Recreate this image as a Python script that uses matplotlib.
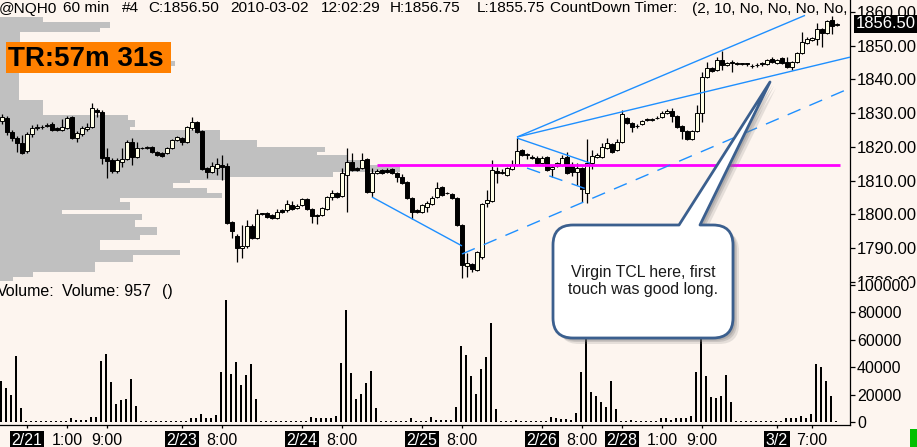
import matplotlib
matplotlib.use('Agg')
import matplotlib.pyplot as plt
from matplotlib.patches import Rectangle, PathPatch
from matplotlib.path import Path
import numpy as np

plt.rcParams['font.family'] = ['Liberation Sans', 'DejaVu Sans']

# ---------------- data ----------------
opens = [1827.7,1828.5,1824.4,1822.6,1821.1,1818.8,1823.8,1825.6,1825.9,1826.3,
         1826.8,1825.6,1825.0,1825.6,1828.8,1822.6,1823.8,1825.3,1825.9,1830.9,
         1830.3,1817.0,1816.1,1812.8,1815.5,1816.4,1821.4,1817.0,1819.6,1819.6,
         1819.9,1818.5,1818.2,1818.2,1819.6,1822.0,1822.6,1821.4,1825.6,1827.4,
         1824.7,1813.7,1812.5,1813.7,1814.6,1814.3,1797.7,1793.5,1790.0,1790.6,
         1796.5,1792.9,1800.1,1800.4,1799.8,1798.9,1801.3,1801.3,1802.7,1801.8,
         1802.7,1804.5,1801.5,1799.8,1799.8,1801.5,1805.1,1806.3,1805.4,1811.6,
         1815.5,1813.7,1813.7,1816.4,1806.6,1812.2,1813.1,1813.1,1813.4,1812.2,
         1811.0,1809.6,1804.8,1801.3,1800.7,1802.1,1803.0,1805.1,1808.1,1806.3,
         1806.0,1804.8,1796.8,1784.6,1785.2,1783.5,1787.3,1803.3,1803.9,1812.8,
         1812.2,1811.6,1813.4,1814.6,1819.1,1817.6,1817.0,1816.7,1815.2,1817.0,
         1813.4,1814.3,1814.6,1817.0,1814.6,1812.5,1813.7,1806.3,1815.2,1817.0,
         1817.0,1819.6,1820.8,1819.1,1821.4,1828.5,1827.1,1826.2,1826.8,1828.0,
         1828.0,1828.5,1828.8,1830.0,1830.6,1829.1,1826.2,1824.7,1822.3,1824.7,
         1830.0,1840.7,1843.4,1842.8,1845.8,1844.3,1844.9,1844.9,1844.6,1844.6,
         1844.0,1844.3,1844.6,1844.6,1846.1,1844.9,1846.3,1845.2,1843.7,1845.2,
         1847.8,1850.8,1851.7,1852.0,1855.0,1853.8,1857.6,1856.25]
highs = [1829.7,1829.0,1825.0,1823.2,1823.5,1824.4,1826.5,1826.8,1826.5,1827.1,
         1827.4,1826.0,1828.2,1829.0,1829.2,1824.7,1826.2,1827.1,1833.0,1831.5,
         1830.9,1819.6,1816.7,1816.7,1819.6,1822.0,1822.6,1821.4,1820.0,1820.2,
         1820.2,1818.8,1818.5,1819.9,1822.3,1823.2,1822.9,1826.2,1828.8,1827.7,
         1825.0,1814.0,1815.5,1816.7,1817.6,1815.2,1798.0,1794.0,1796.8,1798.3,
         1797.0,1801.5,1800.4,1800.7,1800.1,1801.6,1801.6,1804.2,1803.9,1803.0,
         1804.8,1804.8,1801.8,1800.1,1802.1,1805.4,1807.2,1806.6,1813.7,1819.6,
         1818.2,1814.0,1818.2,1816.7,1813.7,1813.4,1813.4,1813.7,1813.7,1812.5,
         1811.9,1809.9,1805.1,1801.6,1803.0,1803.9,1805.4,1809.6,1808.4,1806.6,
         1806.3,1805.1,1797.1,1788.5,1785.5,1789.1,1803.3,1807.2,1816.1,1814.0,
         1813.4,1814.0,1816.1,1822.6,1819.4,1818.2,1817.6,1817.3,1817.3,1817.3,
         1814.6,1815.5,1817.6,1818.5,1815.5,1815.2,1814.0,1822.3,1819.1,1818.2,
         1821.1,1822.6,1821.1,1822.3,1830.9,1828.8,1827.4,1826.8,1828.0,1828.5,
         1828.5,1829.0,1830.6,1831.2,1831.5,1829.4,1826.5,1825.0,1825.0,1832.4,
         1842.2,1845.2,1843.7,1846.6,1848.4,1845.2,1845.8,1845.2,1845.0,1845.0,
         1844.6,1844.9,1845.2,1846.1,1846.6,1846.1,1846.6,1846.6,1845.5,1848.1,
         1854.1,1852.6,1852.6,1856.7,1855.3,1857.6,1858.8,1856.75]
lows = [1826.8,1823.5,1821.8,1818.5,1817.9,1818.2,1822.9,1825.0,1825.3,1825.9,
        1824.7,1824.7,1824.7,1825.3,1822.3,1821.4,1823.2,1824.7,1825.6,1828.8,
        1814.9,1810.7,1812.2,1812.2,1814.0,1816.1,1814.6,1816.7,1819.3,1819.3,
        1818.2,1817.3,1817.0,1817.9,1819.3,1821.7,1820.5,1821.1,1825.0,1824.1,
        1813.1,1810.7,1812.2,1811.6,1810.1,1797.1,1792.9,1785.8,1787.0,1790.0,
        1792.6,1792.6,1799.8,1798.9,1798.6,1798.6,1800.4,1800.7,1801.2,1801.5,
        1802.4,1801.2,1797.4,1797.1,1799.5,1801.2,1804.2,1804.8,1805.1,1800.7,
        1812.8,1812.8,1813.4,1806.3,1805.1,1811.9,1811.9,1812.2,1811.9,1809.6,
        1809.0,1804.5,1798.6,1800.4,1800.4,1800.7,1802.7,1804.8,1805.4,1806.0,
        1804.5,1796.5,1781.1,1781.4,1782.8,1783.2,1786.7,1802.1,1803.6,1809.3,
        1812.0,1811.3,1813.1,1814.3,1817.3,1816.4,1816.4,1814.9,1814.9,1812.8,
        1811.0,1814.0,1814.3,1811.9,1811.3,1808.7,1803.6,1803.3,1813.4,1816.7,
        1816.7,1819.3,1818.2,1818.8,1821.1,1826.8,1824.4,1825.6,1826.5,1827.7,
        1827.7,1828.2,1828.5,1829.7,1827.4,1825.6,1822.3,1822.0,1822.0,1824.4,
        1827.4,1840.4,1842.2,1842.5,1842.8,1844.0,1842.2,1844.3,1844.3,1844.0,
        1843.4,1843.7,1844.0,1844.3,1844.9,1844.6,1844.6,1843.4,1842.8,1844.9,
        1847.5,1850.5,1851.4,1850.2,1849.6,1853.5,1853.5,1855.75]
closes = [1828.8,1824.4,1822.6,1821.1,1818.2,1823.8,1825.6,1825.9,1825.9,1826.5,
          1825.0,1825.0,1825.9,1828.5,1822.6,1824.1,1825.6,1825.9,1831.5,1830.3,
          1816.7,1815.8,1812.8,1816.1,1816.4,1821.4,1817.0,1819.6,1819.6,1819.9,
          1818.5,1817.6,1817.3,1819.6,1822.0,1822.9,1821.4,1825.9,1827.4,1824.4,
          1813.4,1812.5,1814.3,1814.9,1814.0,1797.4,1795.0,1790.0,1790.6,1796.5,
          1792.9,1800.1,1800.1,1799.2,1798.9,1800.7,1800.7,1803.0,1801.5,1802.4,
          1804.5,1801.5,1799.5,1799.5,1801.8,1805.1,1806.3,1805.1,1812.2,1815.5,
          1813.1,1813.1,1816.1,1806.6,1812.2,1812.8,1812.2,1812.5,1812.2,1811.0,
          1809.3,1804.8,1800.7,1800.7,1802.7,1803.3,1804.8,1807.8,1805.7,1806.3,
          1804.8,1796.8,1784.9,1785.5,1783.7,1788.8,1803.0,1804.2,1813.1,1812.2,
          1812.5,1813.7,1814.6,1818.8,1817.6,1817.6,1816.7,1815.2,1816.7,1813.1,
          1814.0,1815.2,1816.7,1812.2,1812.5,1813.7,1807.5,1815.2,1817.3,1817.6,
          1819.9,1821.1,1818.5,1821.4,1829.7,1827.1,1825.9,1826.2,1827.7,1828.0,
          1828.2,1828.5,1830.0,1830.6,1829.1,1825.9,1824.7,1822.3,1824.7,1830.0,
          1840.7,1843.4,1842.5,1845.8,1844.3,1844.9,1844.9,1844.6,1844.6,1844.6,
          1844.0,1844.3,1844.6,1845.8,1845.2,1845.8,1844.9,1843.7,1845.2,1847.8,
          1851.1,1852.0,1852.3,1855.0,1853.8,1857.3,1855.8,1856.5]
volumes = [30150,25050,19700,48200,10450,
           700,700,700,700,700,700,700,700,700,
           3150,1700,1700,1700,3900,3900,
           44800,49600,29200,13100,16000,17000,31400,11700,
           700,700,700,700,700,700,700,700,700,700,
           2700,2700,5800,3150,3150,5100,
           36700,89000,35000,44000,27000,34300,42300,16800,
           700,700,700,700,700,700,700,700,700,700,
           3650,2700,2700,2700,3150,4600,
           43300,81800,36000,16800,20400,28700,37500,10400,
           700,700,700,700,700,700,
           3150,700,700,700,3650,1700,1700,1700,1700,
           11000,
           55500,48900,33600,20400,38500,47200,72000,9250,
           700,700,700,1500,700,700,700,700,700,700,
           3650,2700,2000,2000,1500,6300,
           36300,65000,21600,19000,14400,10700,29900,9250,1000,
           700,1700,700,700,700,700,700,
           3150,2700,1700,2700,3150,3150,4400,
           36700,66000,33800,18500,17700,19200,34300,14800,
           700,700,700,700,700,700,700,700,700,700,
           2700,2700,2700,4400,3150,5800,
           42300,40400,30100,19000,957]

# volume-at-price profile (level edges, relative length in bar units)
profile_edges = [1858.5,1857.0,1855.3,1854.1,1845.5,1844.0,1841.9,1833.9,1829.4,
                 1828.0,1825.9,1825.0,1822.0,1820.0,1818.5,1817.6,1816.1,1814.6,1812.5,
                 1811.0,1810.2,1809.3,1807.8,1806.3,1804.8,1803.6,1802.1,1801.3,1800.1,
                 1798.3,1796.2,1793.8,1792.4,1789.4,1787.9,1785.8,1782.9,1781.4,1780.2]
profile_len = [8.6,22,20,4,35,11,3.8,8.6,25.6,27,26,44,51.4,65,63.4,69.4,73.4,80,
               66.6,45.4,38,34.6,41.4,44.4,24,26,26,12.4,28.4,27,31.4,28,20,36,26.6,
               19,6.6,2.6]

tick_bars = [5,13,21,36,44,60,68,84,92,108,116,124,132,140,155,162]
tick_labels = ['2/21','1:00','9:00','2/23','8:00','2/24','8:00','2/25','8:00',
               '2/26','8:00','2/28','1:00','9:00','3/2','7:00']

poc_price = 1814.75
# trendlines: (bar0, price0, bar1, price1, dashed)
trendlines = [(74,1805.1,92,1790.6,False),
              (92,1788.2,169.6,1837.4,True),
              (103,1822.9,160.6,1859.0,False),
              (103,1822.9,169.6,1846.6,False),
              (103,1822.6,117.6,1815.2,False),
              (105,1813.7,118,1806.9,True)]

last_price = 1856.50

# ---------------- figure ----------------
W, H = 917, 447
BG = '#FDF5EF'
fig = plt.figure(figsize=(W/100, H/100), dpi=100, facecolor=BG)

def fx(px): return px / W
def fy(py): return 1 - py / H

ax = fig.add_axes([0, fy(285), fx(850), 285/H])
axv = fig.add_axes([0, fy(425), fx(850), 140/H])
for a in (ax, axv):
    a.set_facecolor(BG)
    a.set_xlim(-0.4, 169.6)
    for s in ('left', 'top'):
        a.spines[s].set_visible(False)
    a.spines['right'].set_linewidth(0.9)
ax.spines['bottom'].set_visible(False)
axv.spines['bottom'].set_linewidth(0.9)

O = np.array(opens); Hh = np.array(highs); L = np.array(lows); C = np.array(closes)
x = np.arange(len(O))

# profile
edges = np.array(profile_edges)
tops = edges[:-1]; bots = edges[1:]
ax.barh((tops+bots)/2, profile_len, height=(tops-bots), left=-0.4,
        color='#C0C0C0', linewidth=0, zorder=1)

# candles
ax.vlines(x, L, Hh, color='black', lw=0.9, zorder=3)
body_bot = np.minimum(O, C)
body_h = np.maximum(np.abs(C - O), 0.12)
colors = ['#FFFFE6' if c > o else 'black' for o, c in zip(O, C)]
ax.bar(x, body_h, bottom=body_bot, width=0.72, color=colors,
       edgecolor='black', linewidth=0.7, zorder=4)

# magenta line and trendlines
ax.hlines(poc_price, 75, 167.6, color='#FF00FF', lw=2, zorder=5)
for b0, p0, b1, p1, dashed in trendlines:
    ax.plot([b0, b1], [p0, p1], color='#1E8FFF', lw=1.0, zorder=6,
            dashes=(10, 7) if dashed else (None, None), solid_capstyle='butt')

ax.set_ylim(1779.0, 1863.56)
ax.yaxis.tick_right()
ax.set_yticks(np.arange(1780, 1861, 10))
ax.set_yticklabels([f'{v:.2f}' for v in np.arange(1780, 1861, 10)])
ax.tick_params(axis='y', length=3.5, width=0.9, pad=1.5, labelsize=12, colors='black')
ax.set_xticks([])

# last price marker
ax.annotate(f'{last_price:.2f}', xy=(1, last_price), xycoords=('axes fraction', 'data'),
            xytext=(4, 0), textcoords='offset points', ha='left', va='center',
            color='white', fontsize=12, annotation_clip=False,
            bbox=dict(facecolor='black', edgecolor='none', pad=1.2), zorder=20)

# volume
axv.bar(x - 0.2, volumes, width=0.35, color='black', linewidth=0, zorder=3)
axv.set_ylim(-2190, 100010)
axv.yaxis.tick_right()
vt = [0, 20000, 40000, 60000, 80000, 100000]
axv.set_yticks(vt)
axv.set_yticklabels([str(v) for v in vt])
axv.tick_params(axis='y', length=3.5, width=0.9, pad=1.5, labelsize=11.5)
for lab in axv.get_yticklabels():
    lab.set_bbox(dict(facecolor=BG, edgecolor='none', pad=0))
axv.set_xticks(tick_bars)
axv.set_xticklabels(tick_labels)
axv.tick_params(axis='x', length=2.5, width=0.9, pad=3, labelsize=11.5)
for lab in axv.get_xticklabels():
    if '/' in lab.get_text():
        lab.set_color('white')
        lab.set_bbox(dict(facecolor='black', edgecolor='none', pad=1.2))

# ---------------- overlay (texts, callout) ----------------
ov = fig.add_axes([0, 0, 1, 1], zorder=10)
ov.set_xlim(0, W); ov.set_ylim(H, 0); ov.axis('off'); ov.patch.set_alpha(0)

header = [('@NQH0', -1), ('60 min', 63), ('#4', 122), ('C:1856.50', 148),
          ('2010-03-02', 230), ('12:02:29', 321), ('H:1856.75', 390),
          ('L:1855.75', 477), ('CountDown Timer:', 550), ('(2, 10, No, No, No, No,', 692)]
for t, px in header:
    ov.text(px, 12.5, t, fontsize=11.1, color='black', ha='left', va='baseline')

ov.add_patch(Rectangle((6, 42), 165, 31, facecolor='#FF8000', edgecolor='none'))
ov.text(8, 66.5, 'TR:57m 31s', fontsize=20, fontweight='bold', color='black',
        ha='left', va='baseline')

for t, px in [('Volume:', -3), ('Volume: 957', 62), ('()', 162)]:
    ov.text(px, 296, t, fontsize=11.5, color='black', ha='left', va='baseline')

# callout bubble with pointer
def bubble_path(x0, y0, x1, y1, r, b0, b1, tip, dx=0, dy=0):
    verts = [(x0+r, y0), (b0, y0), tip, (b1, y0), (x1-r, y0),
             (x1, y0), (x1, y0+r), (x1, y1-r), (x1, y1), (x1-r, y1),
             (x0+r, y1), (x0, y1), (x0, y1-r), (x0, y0+r), (x0, y0), (x0+r, y0),
             (x0+r, y0)]
    codes = [Path.MOVETO, Path.LINETO, Path.LINETO, Path.LINETO, Path.LINETO,
             Path.CURVE3, Path.CURVE3, Path.LINETO, Path.CURVE3, Path.CURVE3,
             Path.LINETO, Path.CURVE3, Path.CURVE3, Path.LINETO, Path.CURVE3, Path.CURVE3,
             Path.CLOSEPOLY]
    verts = [(vx+dx, vy+dy) for vx, vy in verts]
    return Path(verts, codes)

for off, al in [(6, 0.18), (4, 0.25), (2.5, 0.3)]:
    ov.add_patch(PathPatch(bubble_path(553, 225, 733, 338, 20, 679, 700, (770, 82), off, off),
                           facecolor='#7A7A7A', edgecolor='none', alpha=al))
ov.add_patch(PathPatch(bubble_path(553, 225, 733, 338, 20, 679, 700, (770, 82)),
                       facecolor='white', edgecolor='#3B5F8E', lw=2, joinstyle='round'))
ov.text(643, 277, 'Virgin TCL here, first', fontsize=11.4, color='#1A1A1A',
        ha='center', va='baseline')
ov.text(643, 294, 'touch was good long.', fontsize=11.4, color='#1A1A1A',
        ha='center', va='baseline')

ov.add_patch(Rectangle((910, 429), 7, 18, facecolor='#00C000', edgecolor='none'))

fig.savefig('out.png', dpi=100, facecolor=BG)
